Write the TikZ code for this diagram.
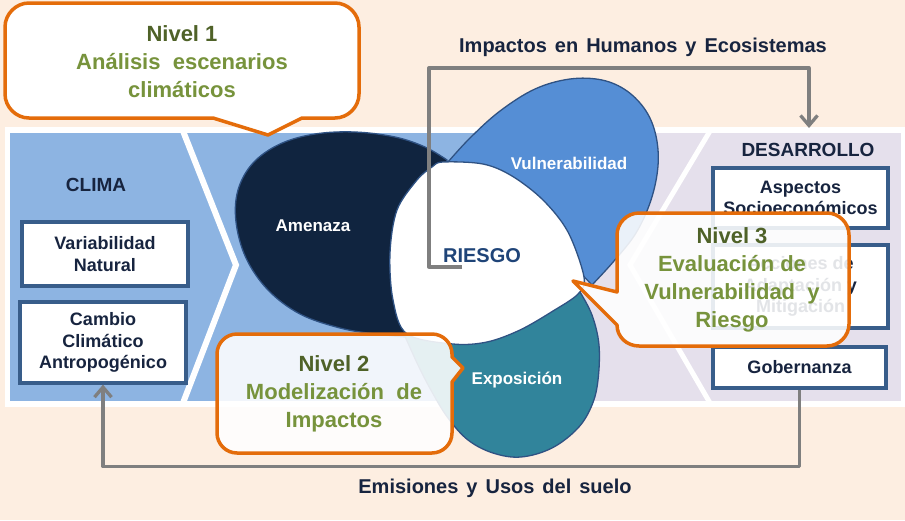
\documentclass[tikz,border=0pt]{standalone}
\usepackage{fontspec}
\setmainfont{Liberation Sans}
\usetikzlibrary{arrows.meta,shadows}
\definecolor{peach}{HTML}{FDEEE1}
\definecolor{bandblue}{HTML}{8DB4E2}
\definecolor{lav}{HTML}{E5E0EC}
\definecolor{amen}{HTML}{10243F}
\definecolor{vuln}{HTML}{558ED5}
\definecolor{expo}{HTML}{31849B}
\definecolor{blobline}{HTML}{2F5283}
\definecolor{boxline}{HTML}{385D8A}
\definecolor{navy}{HTML}{17243F}
\definecolor{riesgoc}{HTML}{1F4478}
\definecolor{orng}{HTML}{E46C0A}
\definecolor{gdark}{HTML}{4F6228}
\definecolor{glight}{HTML}{77933C}
\definecolor{arrowgray}{HTML}{7F7F7F}
\tikzset{
  txtbox/.style={draw=boxline, line width=3.2pt, fill=white, align=center,
    text=navy, font=\fontsize{18}{21.5}\selectfont\bfseries, inner sep=0pt,
    drop shadow={shadow xshift=1.5pt, shadow yshift=-1.5pt, opacity=0.3, fill=black}},
  bloblabel/.style={text=white, font=\fontsize{17}{20}\selectfont\bfseries},
  header/.style={text=navy, font=\fontsize{19}{22}\selectfont\bfseries},
  caption/.style={text=navy, font=\fontsize{20}{24}\selectfont\bfseries,
    execute at begin node={\spaceskip=8pt\relax}},
  calloutline/.style={draw=orng, line width=3.5pt, line join=round},
  callouttext/.style={align=center, text=glight, font=\fontsize{22}{28}\selectfont\bfseries},
  blobedge/.style={draw=blobline, line width=1.3pt},
  conn/.style={draw=arrowgray, line width=3.3pt, line join=round,
    -{Straight Barb[length=10pt, width=17pt, line width=3.3pt]}},
}
\begin{document}
\begin{tikzpicture}[x=1pt, y=-1pt]
\useasboundingbox (0,0) rectangle (905,520);
% background
\fill[peach] (0,0) rectangle (905,520);
% band
\fill[white] (5,127) rectangle (905,407);
\fill[bandblue] (10,133) rectangle (530,401);
\fill[lav] (530,133) rectangle (901,401);
\draw[white, line width=6pt, line join=miter] (183,131) -- (236,265) -- (183,403);
\draw[white, line width=5pt, line join=miter] (710,131) -- (630,265) -- (710,403);

% blobs
\filldraw[fill=amen, blobedge] plot[smooth, tension=0.6] coordinates {(447,160) (425,147) (395,137) (355,132) (315,134) (280,144) (253,163) (238,190) (236,222) (246,258) (268,290) (300,314) (340,328) (375,334) (405,337)} -- (432,290) -- (440,200) -- cycle;
\filldraw[fill=vuln, blobedge] plot[smooth, tension=0.6] coordinates {(448,162) (470,138) (500,111) (535,89) (570,79) (602,80) (627,91) (646,111) (656,136) (658,166) (651,200) (636,233) (614,261) (592,285)} -- (570,262) -- (500,185) -- cycle;
\filldraw[fill=expo, blobedge] plot[smooth, tension=0.6] coordinates {(580,292) (592,315) (599,345) (598,380) (592,405) (578,428) (552,448) (521,457) (493,453) (468,440) (448,418) (432,392) (418,365) (404,334)} -- (450,335) -- (540,305) -- cycle;
\filldraw[fill=white, blobedge] plot[smooth cycle, tension=0.55] coordinates {(443,162) (483,164) (512,176) (543,200) (568,232) (584,277) (578,294) (553,311) (520,330) (487,342) (453,344) (407,334) (393,300) (390,253) (397,210) (417,180) (432,167)};

\node[bloblabel] (amenaza) at (313,226) {Amenaza};
\node[bloblabel] (vulner) at (569,163) {Vulnerabilidad};
\node[bloblabel] (expos) at (517,380) {Exposición};

% headers
\node[header] (clima) at (96,185) {CLIMA};
\node[header] (desarrollo) at (808,150) {DESARROLLO};

% boxes
\node[txtbox, minimum width=166pt, minimum height=64pt] (var) at (105,254) {Variabilidad\\Natural};
\node[txtbox, minimum width=166pt, minimum height=81pt] (cambio) at (103,342.5) {Cambio\\Climático\\Antropogénico};
\node[txtbox, minimum width=175pt, minimum height=60pt] (asp) at (800.5,198) {Aspectos\\Socioeconómicos};
\node[txtbox, minimum width=175pt, minimum height=83pt] (acc) at (800.5,286.5) {Acciones de\\Adaptación y\\Mitigación};
\node[txtbox, minimum width=173pt, minimum height=41pt] (gob) at (799.5,367.5) {Gobernanza};

% connectors
\coordinate (impStart) at (462,267);
\coordinate (impTurn) at (809,68);
\coordinate (impEnd) at (809,128);
\draw[conn] (impStart) -- (429,267) |- (impTurn) -- (impEnd);
\draw[conn] (gob.south) -- ++(0,77) -| (cambio.south);

\node[text=riesgoc, font=\fontsize{20}{24}\selectfont\bfseries] (riesgo) at (482,256) {RIESGO};

% captions
\node[caption] (impactos) at (643,47) {Impactos en Humanos y Ecosistemas};
\node[caption] (emisiones) at (495,488) {Emisiones y Usos del suelo};

% callout Nivel 1
\filldraw[fill=white, calloutline] (29,3) -- (335,3) .. controls (348,3) and (359,14) .. (359,27) -- (359,94) .. controls (359,107) and (348,118) .. (335,118) -- (302,118) -- (268,135) -- (213,118) -- (29,118) .. controls (16,118) and (5,107) .. (5,94) -- (5,27) .. controls (5,14) and (16,3) .. (29,3) -- cycle;
\node[callouttext] (nivel1) at (182,62) {\textcolor{gdark}{Nivel 1}\\Análisis\ \ escenarios\\climáticos};

% callout Nivel 2
\filldraw[fill=white, fill opacity=0.88, calloutline] (237,334) -- (432,334) .. controls (443,334) and (452,343) .. (452,354) -- (452,357) -- (463,368) -- (452,382) -- (452,433) .. controls (452,444) and (443,453) .. (432,453) -- (237,453) .. controls (226,453) and (217,444) .. (217,433) -- (217,354) .. controls (217,343) and (226,334) .. (237,334) -- cycle;
\node[callouttext] (nivel2) at (334,394) {\textcolor{gdark}{Nivel 2}\\Modelización\ \ de\\Impactos};

% callout Nivel 3
\filldraw[fill=white, fill opacity=0.88, calloutline] (639,213) -- (827,213) .. controls (839,213) and (849,223) .. (849,235) -- (849,324) .. controls (849,336) and (839,346) .. (827,346) -- (639,346) .. controls (627,346) and (617,337) .. (617,325) -- (573,281) -- (617,292) -- (617,235) .. controls (617,223) and (627,213) .. (639,213) -- cycle;
\node[callouttext] (nivel3) at (732,280) {\textcolor{gdark}{Nivel 3}\\Evaluación de\\Vulnerabilidad\ \ y\\Riesgo};
\end{tikzpicture}
\end{document}
